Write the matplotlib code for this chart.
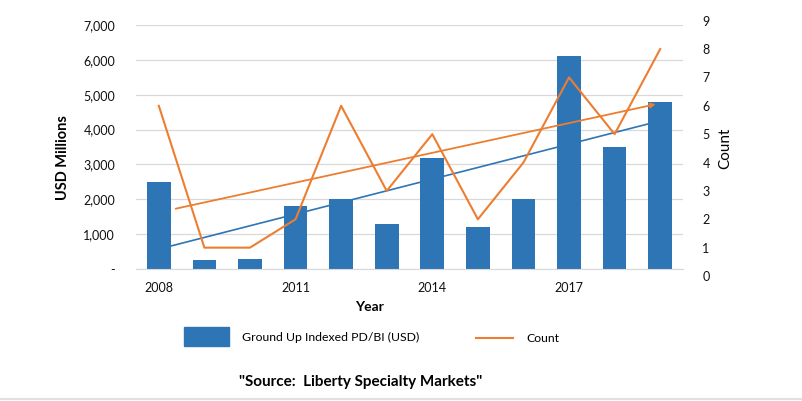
import numpy as np
import matplotlib.pyplot as plt

years = [2008, 2009, 2010, 2011, 2012, 2013, 2014, 2015, 2016, 2017, 2018, 2019]
losses = [2500, 250, 300, 1800, 2000, 1300, 3200, 1200, 2000, 6100, 3500, 4800]
counts = [6, 1, 1, 2, 6, 3, 5, 2, 4, 7, 5, 8]
xtick_labels = ['2008', '', '', '2011', '', '', '2014', '', '', '2017', '', '']

blue = '#2E75B6'
orange = '#ED7D31'
grid = '#D9D9D9'

plt.rcParams['font.family'] = ['Lato', 'DejaVu Sans']

fig = plt.figure(figsize=(8.02, 4.01), dpi=100)
ax = fig.add_axes([0.1696, 0.329, 0.682, 0.6085])
ax2 = fig.add_axes([0.1696, 0.3117, 0.682, 0.6367], sharex=ax, frameon=False)
ax2.patch.set_alpha(0)

x = np.arange(len(years))

# bars + linear trend
ax.bar(x, losses, width=0.52, color=blue, zorder=2)
k, b = np.polyfit(x, losses, 1)
xt = np.array([0.26, 10.75])
ax.plot(xt, k * xt + b, color=blue, lw=1.2, zorder=3)

ax.set_xlim(-0.5, 11.5)
ax.set_ylim(0, 7000)
ax.set_yticks(range(0, 7001, 1000))
ax.set_yticklabels(['-'] + [f'{v:,}' for v in range(1000, 7001, 1000)])
ax.set_xticks(x)
ax.set_xticklabels(xtick_labels)
ax.grid(axis='y', color=grid, lw=0.9, zorder=0)
for s in ['top', 'right', 'left']:
    ax.spines[s].set_visible(False)
ax.spines['bottom'].set_color(grid)
ax.tick_params(axis='both', length=0, labelsize=9, colors='#111111')
ax.tick_params(axis='y', pad=15)
ax.tick_params(axis='x', pad=9)

# count line + trend (right axis)
ax2.plot(x, counts, color=orange, lw=1.5, zorder=4)
k2, b2 = np.polyfit(x, counts, 1)
xs, xe = 0.37, 10.9
ax2.annotate('', xy=(xe, k2 * xe + b2), xytext=(xs, k2 * xs + b2),
             arrowprops=dict(arrowstyle='-|>', color=orange, lw=1.3,
                             mutation_scale=7, shrinkA=0, shrinkB=0))
ax2.set_ylim(0, 9)
ax2.yaxis.tick_right()
ax2.yaxis.set_label_position('right')
ax2.set_yticks(range(10))
ax2.tick_params(axis='y', length=0, labelsize=9, pad=14, colors='#111111')
ax2.tick_params(axis='x', bottom=False, labelbottom=False)
ax2.set_ylabel('Count', fontsize=11, labelpad=6)

fig.text(0.078, 1 - 158 / 401, 'USD Millions', rotation=90, ha='center', va='center',
         fontsize=10.5, fontweight='bold')
fig.text(0.461, 1 - 307 / 401, 'Year', ha='center', va='center', fontsize=10, fontweight='bold')

# legend
fig.patches.append(plt.Rectangle((184 / 802, 1 - 346 / 401), 45 / 802, 19 / 401,
                                 transform=fig.transFigure, color=blue))
fig.text(242 / 802, 1 - 337 / 401, 'Ground Up Indexed PD/BI (USD)', va='center', fontsize=8.8)
fig.lines.append(plt.Line2D([476 / 802, 513 / 802], [1 - 338 / 401] * 2,
                            transform=fig.transFigure, color=orange, lw=1.5))
fig.text(526 / 802, 1 - 338 / 401, 'Count', va='center', fontsize=8.8)

fig.text(361 / 802, 1 - 382 / 401, '"Source:  Liberty Specialty Markets"', ha='center',
         va='center', fontsize=11, fontweight='bold')
fig.lines.append(plt.Line2D([0, 1], [0.004, 0.004], transform=fig.transFigure,
                            color='#E0E0E0', lw=1.5))

fig.savefig('out.png', dpi=100)
